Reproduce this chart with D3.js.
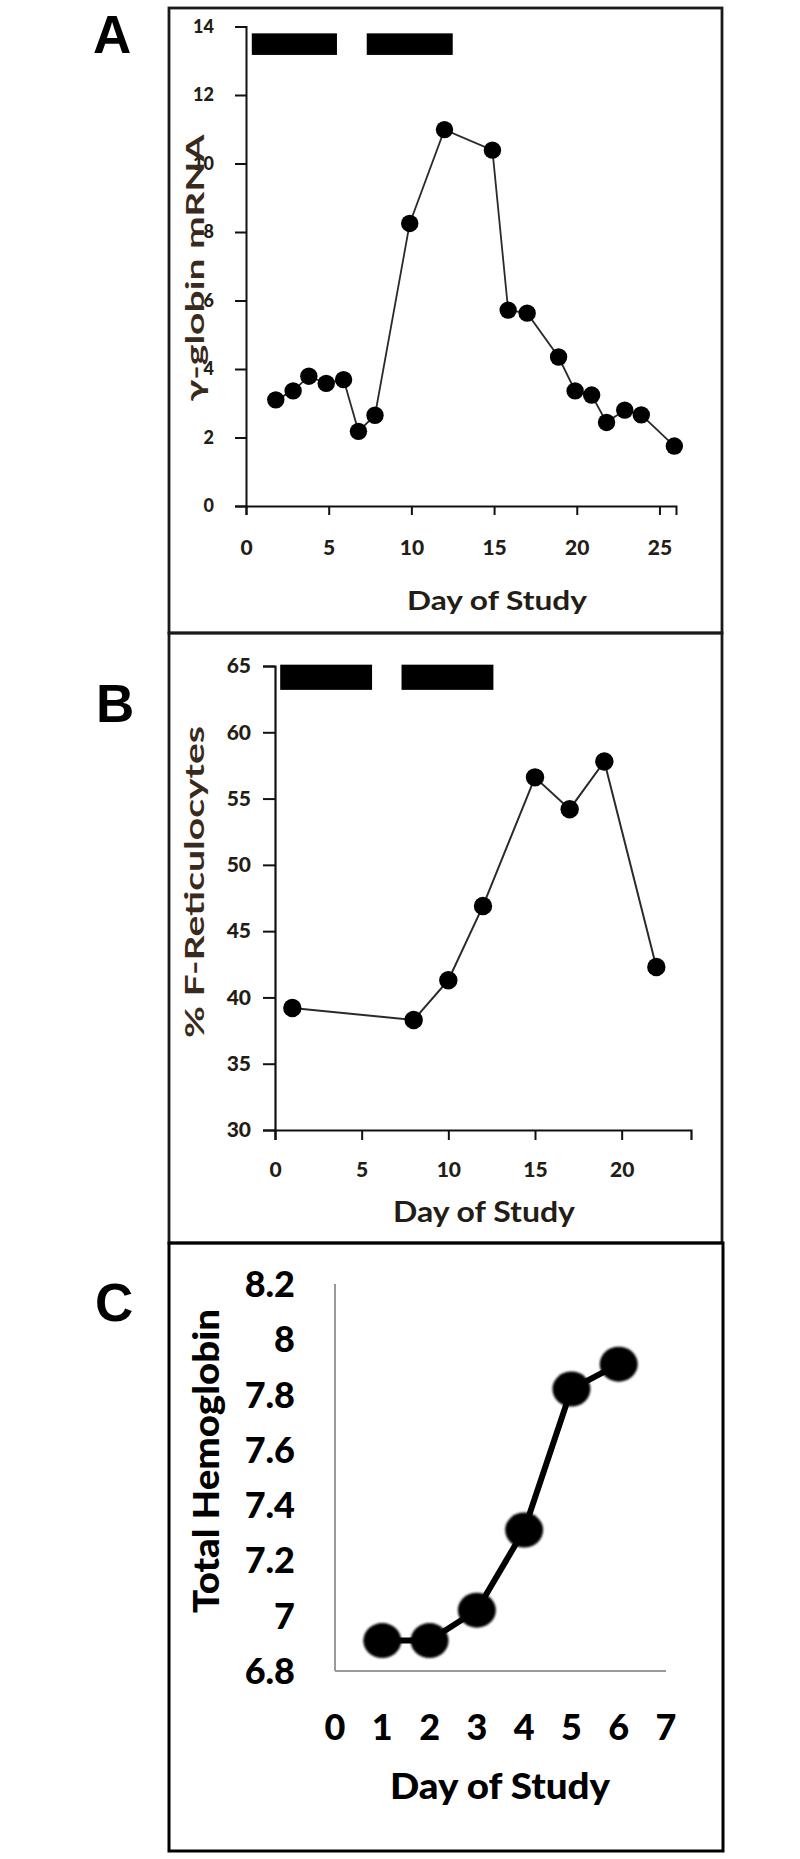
<!DOCTYPE html>
<html><head><meta charset="utf-8">
<script src="https://cdn.jsdelivr.net/npm/d3@7"></script>
<style>html,body{margin:0;padding:0;background:#fff;}svg{display:block;}</style>
</head><body>
<svg id="chart" width="800" height="1859"></svg>
<script>
// ---------- DATA ----------
// Panel A: gamma-globin mRNA
const daysA = [1.8, 2.85, 3.8, 4.85, 5.9, 6.8, 7.8, 9.9, 12, 14.9, 15.85, 17, 18.9, 19.9, 20.9, 21.8, 22.9, 23.9, 25.9];
const mrnaA = [3.10, 3.36, 3.79, 3.58, 3.69, 2.18, 2.65, 8.25, 10.99, 10.39, 5.72, 5.63, 4.35, 3.36, 3.24, 2.44, 2.80, 2.66, 1.75];
const ticksAx = [0, 5, 10, 15, 20, 25];
const ticksAy = [0, 2, 4, 6, 8, 10, 12, 14];
const barsA = [[0.35, 5.5], [7.3, 12.5]];
const barAy = [13.17, 13.8];

// Panel B: % F-reticulocytes
const daysB = [1, 8, 10, 12, 15, 17, 19, 22];
const fretB = [39.2, 38.3, 41.3, 46.9, 56.6, 54.2, 57.8, 42.3];
const ticksBx = [0, 5, 10, 15, 20];
const ticksBy = [30, 35, 40, 45, 50, 55, 60, 65];
const barsB = [[0.3, 5.6], [7.3, 12.6]];
const barBy = [63.2, 65.1];

// Panel C: total hemoglobin
const daysC = [1, 2, 3, 4, 5, 6];
const hbC = [6.91, 6.91, 7.02, 7.31, 7.82, 7.91];
const ticksCx = [0, 1, 2, 3, 4, 5, 6, 7];
const ticksCy = [6.8, 7, 7.2, 7.4, 7.6, 7.8, 8, 8.2];
const barC = [0.68, 4.31];
const barCy = 8.117;

// ---------- DRAW ----------
const svg = d3.select("#chart");
const defs = svg.append("defs");
defs.append("filter").attr("id", "soft").attr("x", "-30%").attr("y", "-30%").attr("width", "160%").attr("height", "160%")
  .append("feGaussianBlur").attr("stdDeviation", 1.3);

const txtCol = "#231d16";
const titleCol = "#3a2a1c";

// panel frames
function frame(x0, y0, x1, y1, w, col) {
  svg.append("rect").attr("x", x0).attr("y", y0).attr("width", x1 - x0).attr("height", y1 - y0)
    .attr("fill", "none").attr("stroke", col).attr("stroke-width", w);
}
frame(169, 8, 722, 633, 2.8, "#1a1a1a");
frame(169, 633, 722, 1243, 2.8, "#1a1a1a");
frame(169, 1243, 723, 1851, 3, "#000");

// panel letters
[["A", 93, 53], ["B", 96, 722], ["C", 95, 1321]].forEach(([t, x, y]) => {
  svg.append("text").attr("x", x).attr("y", y).text(t)
    .attr("font-family", "Liberation Sans, Arial, sans-serif").attr("font-weight", "bold")
    .attr("font-size", 53).attr("fill", "#000");
});

const font = "Lato, 'Open Sans', sans-serif";

// ===== Panel A =====
const xA = d3.scaleLinear().domain([0, 26]).range([246, 676]);
const yA = d3.scaleLinear().domain([0, 14]).range([506, 26.5]);
const gA = svg.append("g");
gA.append("g").attr("transform", `translate(0,${yA(0)})`)
  .call(d3.axisBottom(xA).tickValues(ticksAx).tickSize(9).tickFormat(d3.format("d")))
  .call(g => { g.select(".domain").attr("stroke", "#111").attr("stroke-width", 2);
    g.selectAll(".tick line").attr("stroke", "#111").attr("stroke-width", 2);
    g.selectAll(".tick text").attr("dy", 0).attr("y", 49).attr("font-family", font).attr("font-weight", "900")
      .attr("font-size", 21).attr("fill", txtCol); });
gA.append("g").attr("transform", `translate(${xA(0)},0)`)
  .call(d3.axisLeft(yA).tickValues(ticksAy).tickSize(11).tickPadding(21).tickFormat(d3.format("d")))
  .call(g => { g.select(".domain").attr("stroke", "#111").attr("stroke-width", 2);
    g.selectAll(".tick line").attr("stroke", "#111").attr("stroke-width", 2);
    g.selectAll(".tick text").attr("font-family", font).attr("font-weight", "900")
      .attr("font-size", 18).attr("fill", txtCol); });
gA.selectAll("rect.bar").data(barsA).enter().append("rect")
  .attr("x", d => xA(d[0])).attr("width", d => xA(d[1]) - xA(d[0]))
  .attr("y", yA(barAy[1])).attr("height", yA(barAy[0]) - yA(barAy[1])).attr("fill", "#000");
const ptsA = daysA.map((d, i) => [d, mrnaA[i]]);
gA.append("path").datum(ptsA).attr("fill", "none").attr("stroke", "#2a2a2a").attr("stroke-width", 1.8)
  .attr("d", d3.line().x(d => xA(d[0])).y(d => yA(d[1])));
gA.selectAll("circle").data(ptsA).enter().append("circle")
  .attr("cx", d => xA(d[0])).attr("cy", d => yA(d[1])).attr("r", 8.7).attr("fill", "#000");
gA.append("text").attr("transform", `translate(204,268) rotate(-90)`).attr("text-anchor", "middle")
  .attr("font-family", font).attr("font-weight", "bold").attr("font-size", 25).attr("fill", titleCol)
  .attr("textLength", 267).attr("lengthAdjust", "spacingAndGlyphs").text("γ-globin mRNA");
gA.append("text").attr("x", 497).attr("y", 610).attr("text-anchor", "middle")
  .attr("font-family", font).attr("font-weight", "bold").attr("font-size", 27).attr("fill", txtCol)
  .attr("textLength", 180).attr("lengthAdjust", "spacingAndGlyphs").text("Day of Study");

// ===== Panel B =====
const xB = d3.scaleLinear().domain([0, 24]).range([275, 691]);
const yB = d3.scaleLinear().domain([30, 65]).range([1130, 666]);
const gB = svg.append("g");
gB.append("g").attr("transform", `translate(0,${yB(30)})`)
  .call(d3.axisBottom(xB).tickValues(ticksBx).tickSize(10).tickFormat(d3.format("d")))
  .call(g => { g.select(".domain").attr("stroke", "#111").attr("stroke-width", 2.2);
    g.selectAll(".tick line").attr("stroke", "#111").attr("stroke-width", 2);
    g.selectAll(".tick text").attr("dy", 0).attr("y", 47).attr("font-family", font).attr("font-weight", "900")
      .attr("font-size", 21).attr("fill", txtCol); });
gB.append("g").attr("transform", `translate(${xB(0)},0)`)
  .call(d3.axisLeft(yB).tickValues(ticksBy).tickSize(12).tickPadding(12).tickFormat(d3.format("d")))
  .call(g => { g.select(".domain").attr("stroke", "#111").attr("stroke-width", 2.2);
    g.selectAll(".tick line").attr("stroke", "#111").attr("stroke-width", 2);
    g.selectAll(".tick text").attr("font-family", font).attr("font-weight", "900")
      .attr("font-size", 21).attr("fill", txtCol); });
gB.selectAll("rect.bar").data(barsB).enter().append("rect")
  .attr("x", d => xB(d[0])).attr("width", d => xB(d[1]) - xB(d[0]))
  .attr("y", yB(barBy[1])).attr("height", yB(barBy[0]) - yB(barBy[1])).attr("fill", "#000");
const ptsB = daysB.map((d, i) => [d, fretB[i]]);
gB.append("path").datum(ptsB).attr("fill", "none").attr("stroke", "#2a2a2a").attr("stroke-width", 2)
  .attr("d", d3.line().x(d => xB(d[0])).y(d => yB(d[1])));
gB.selectAll("circle").data(ptsB).enter().append("circle")
  .attr("cx", d => xB(d[0])).attr("cy", d => yB(d[1])).attr("r", 9.2).attr("fill", "#000");
gB.append("text").attr("transform", `translate(204,882) rotate(-90)`).attr("text-anchor", "middle")
  .attr("font-family", font).attr("font-weight", "bold").attr("font-size", 26).attr("fill", titleCol)
  .attr("textLength", 312).attr("lengthAdjust", "spacingAndGlyphs").text("% F-Reticulocytes");
gB.append("text").attr("x", 484).attr("y", 1222).attr("text-anchor", "middle")
  .attr("font-family", font).attr("font-weight", "bold").attr("font-size", 28).attr("fill", txtCol)
  .attr("textLength", 182).attr("lengthAdjust", "spacingAndGlyphs").text("Day of Study");

// ===== Panel C =====
const xC = d3.scaleLinear().domain([0, 7]).range([335, 666]);
const yC = d3.scaleLinear().domain([6.8, 8.2]).range([1671, 1284]);
const gC = svg.append("g");
gC.append("line").attr("x1", xC(0)).attr("x2", xC(0)).attr("y1", yC(8.2)).attr("y2", yC(6.8))
  .attr("stroke", "#9a9a9a").attr("stroke-width", 2);
gC.append("line").attr("x1", xC(0)).attr("x2", xC(7)).attr("y1", yC(6.8)).attr("y2", yC(6.8))
  .attr("stroke", "#9a9a9a").attr("stroke-width", 2);
gC.selectAll("text.yt").data(ticksCy).enter().append("text")
  .attr("x", 295).attr("y", d => yC(d)).attr("dy", "0.36em").attr("text-anchor", "end")
  .attr("font-family", font).attr("font-weight", "900").attr("font-size", 36).attr("fill", "#000")
  .text(d => d3.format("")(d));
gC.selectAll("text.xt").data(ticksCx).enter().append("text")
  .attr("x", d => xC(d)).attr("y", 1740).attr("text-anchor", "middle")
  .attr("font-family", font).attr("font-weight", "900").attr("font-size", 36).attr("fill", "#000")
  .text(d => d);
gC.append("line").attr("x1", xC(barC[0]) + 15).attr("x2", xC(barC[1]) - 15)
  .attr("y1", yC(barCy)).attr("y2", yC(barCy)).attr("stroke", "#000").attr("stroke-width", 30)
  .attr("stroke-linecap", "round").attr("filter", "url(#soft)");
const ptsC = daysC.map((d, i) => [d, hbC[i]]);
gC.append("path").datum(ptsC).attr("fill", "none").attr("stroke", "#000").attr("stroke-width", 6)
  .attr("d", d3.line().x(d => xC(d[0])).y(d => yC(d[1])));
gC.selectAll("ellipse").data(ptsC).enter().append("ellipse")
  .attr("cx", d => xC(d[0])).attr("cy", d => yC(d[1])).attr("rx", 19).attr("ry", 17.5)
  .attr("fill", "#000").attr("filter", "url(#soft)");
gC.append("text").attr("transform", `translate(219,1461) rotate(-90)`).attr("text-anchor", "middle")
  .attr("font-family", font).attr("font-weight", "900").attr("font-size", 36).attr("fill", "#000")
  .attr("textLength", 304).attr("lengthAdjust", "spacingAndGlyphs").text("Total Hemoglobin");
gC.append("text").attr("x", 500).attr("y", 1799).attr("text-anchor", "middle")
  .attr("font-family", font).attr("font-weight", "900").attr("font-size", 36).attr("fill", "#000")
  .attr("textLength", 220).attr("lengthAdjust", "spacingAndGlyphs").text("Day of Study");
</script>
</body></html>
